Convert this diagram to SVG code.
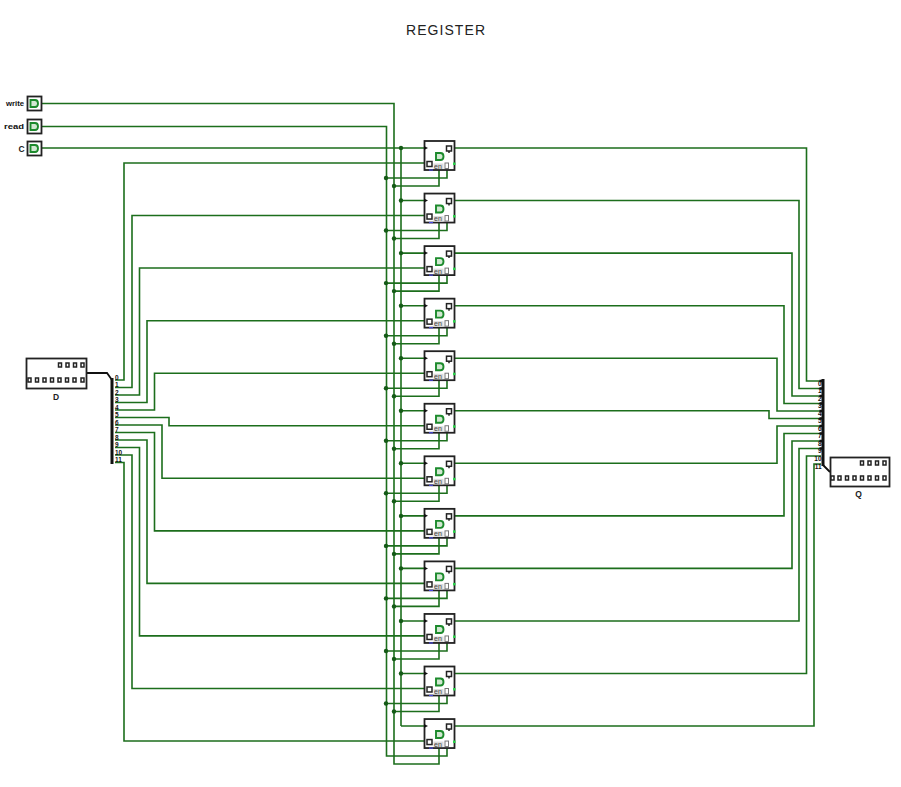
<svg xmlns="http://www.w3.org/2000/svg" width="901" height="787" viewBox="0 0 901 787">
<style>
.w{fill:none;stroke:#1c6e1c;stroke-width:1.6}
.b{fill:none;stroke:#111;stroke-width:3}
.bt{fill:none;stroke:#111;stroke-width:1.8}
.d{fill:#145a16}
.box{fill:#fff;stroke:#222;stroke-width:1.8}
.p{fill:#fff;stroke:#222;stroke-width:1.5}
.g{fill:#d2e8d2;stroke:#1c8a2c;stroke-width:1.9}
.t{font-family:"Liberation Sans",Arial,sans-serif;fill:#222}
.s{font-size:7px;fill:#444}
.n{font-size:6.5px;font-weight:bold;fill:#111}
.l{font-size:8.500px;font-weight:bold;fill:#222}
</style>
<rect width="901" height="787" fill="#fff"/>
<text class="t" x="445.500" y="35" font-size="14" text-anchor="middle" textLength="79">REGISTER</text>
<g id="connectors">
<path class="w" d="M42 103.500H394V764H439V748M42 126.500H386.500V756H447V748M42 148H424M401 148V726"/>
<path class="w" d="M401 200.500H424M401 253.100H424M401 305.700H424M401 358.200H424M401 410.800H424M401 463.300H424M401 515.900H424M401 568.400H424M401 621H424M401 673.500H424M401 726H424"/>
<path class="w" d="M386.500 178H447V169M394 186H439V169M386.500 230.500H447V221.500M394 238.500H439V221.500M386.500 283.100H447V274.100M394 291.100H439V274.100M386.500 335.700H447V326.700M394 343.700H439V326.700M386.500 388.200H447V379.200M394 396.200H439V379.200M386.500 440.800H447V431.800M394 448.800H439V431.800M386.500 493.300H447V484.300M394 501.300H439V484.300M386.500 545.900H447V536.900M394 553.900H439V536.900M386.500 598.400H447V589.400M394 606.400H439V589.400M386.500 651H447V642M394 659H439V642M386.500 703.500H447V694.500M394 711.500H439V694.500"/>
<path class="w" d="M115 380H124V163H424M115 387.500H132V215.500H424M115 395H139.500V268H424M115 402.500H147V320.700H424M115 410H154.500V373.200H424M115 417.500H169V425.800H424M115 425H162V478.300H424M115 432.500H154.500V530.900H424M115 440H147V583.400H424M115 447.500H139.500V635.900H424M115 455H132V688.500H424M115 462.500H124V741H424"/>
<path class="w" d="M455 148H806.500V381H821M455 200.500H799V388.500H821M455 253.100H792V396H821M455 305.700H784V403.500H821M455 358.200H777V411H821M455 410.800H769V418.500H821M455 463.300H777V426H821M455 515.900H784V433.500H821M455 568.400H792V441H821M455 621H799V448.500H821M455 673.500H806.500V456H821M455 726H814V464H821"/>
<path class="bt" d="M85 373H107L112 380M823 465L830 472"/>
<path class="b" d="M112 378V464M823 379V466"/>
<path d="M819.500 381H823M819.500 388.500H823M819.500 396H823M819.500 403.500H823M819.500 411H823M819.500 418.500H823M819.500 426H823M819.500 433.500H823M819.500 441H823M819.500 448.500H823" stroke="#111" stroke-width="2.500" fill="none"/>
<g class="d">
<circle cx="401" cy="148" r="2.200"/><circle cx="401" cy="200.500" r="2.200"/><circle cx="401" cy="253.100" r="2.200"/><circle cx="401" cy="305.700" r="2.200"/><circle cx="401" cy="358.200" r="2.200"/><circle cx="401" cy="410.800" r="2.200"/><circle cx="401" cy="463.300" r="2.200"/><circle cx="401" cy="515.900" r="2.200"/><circle cx="401" cy="568.400" r="2.200"/><circle cx="401" cy="621" r="2.200"/><circle cx="401" cy="673.500" r="2.200"/>
<circle cx="386" cy="178" r="2.200"/><circle cx="394" cy="186" r="2.200"/><circle cx="386" cy="230.500" r="2.200"/><circle cx="394" cy="238.500" r="2.200"/><circle cx="386" cy="283.100" r="2.200"/><circle cx="394" cy="291.100" r="2.200"/><circle cx="386" cy="335.700" r="2.200"/><circle cx="394" cy="343.700" r="2.200"/><circle cx="386" cy="388.200" r="2.200"/><circle cx="394" cy="396.200" r="2.200"/><circle cx="386" cy="440.800" r="2.200"/><circle cx="394" cy="448.800" r="2.200"/><circle cx="386" cy="493.300" r="2.200"/><circle cx="394" cy="501.300" r="2.200"/><circle cx="386" cy="545.900" r="2.200"/><circle cx="394" cy="553.900" r="2.200"/><circle cx="386" cy="598.400" r="2.200"/><circle cx="394" cy="606.400" r="2.200"/><circle cx="386" cy="651" r="2.200"/><circle cx="394" cy="659" r="2.200"/><circle cx="386" cy="703.500" r="2.200"/><circle cx="394" cy="711.500" r="2.200"/>
</g>
</g>
<defs>
<path id="dshape" class="g" d="M0 0H4.500Q7.500 0 7.500 3.500Q7.500 7 4.500 7H0Z"/>
</defs>
<g id="in-write"><rect class="box" x="27.500" y="96.500" width="14" height="14"/><use href="#dshape" x="30.500" y="100"/><text class="t n" x="6" y="106" textLength="18" lengthAdjust="spacingAndGlyphs">write</text></g>
<g id="in-read"><rect class="box" x="27.500" y="119.500" width="14" height="14"/><use href="#dshape" x="30.500" y="123"/><text class="t n" x="4" y="129" textLength="20" lengthAdjust="spacingAndGlyphs">read</text></g>
<g id="in-c"><rect class="box" x="27.500" y="141.500" width="14" height="14"/><use href="#dshape" x="30.500" y="145"/><text class="t l" x="18.500" y="152">C</text></g>
<g id="bus-d">
<rect class="box" x="26.500" y="358.500" width="60" height="30"/>
<g class="p"><rect x="58.500" y="363" width="3" height="4"/><rect x="66" y="363" width="3" height="4"/><rect x="73.500" y="363" width="3" height="4"/><rect x="81" y="363" width="3" height="4"/><rect x="28" y="378" width="3" height="4"/><rect x="35.500" y="378" width="3" height="4"/><rect x="43" y="378" width="3" height="4"/><rect x="50.500" y="378" width="3" height="4"/><rect x="58" y="378" width="3" height="4"/><rect x="65.500" y="378" width="3" height="4"/><rect x="73" y="378" width="3" height="4"/><rect x="81" y="378" width="3" height="4"/></g>
<text class="t l" x="56" y="400" text-anchor="middle">D</text>
<g class="t n"><text x="115" y="379.500">0</text><text x="115" y="387">1</text><text x="115" y="394.500">2</text><text x="115" y="402">3</text><text x="115" y="409.500">4</text><text x="115" y="417">5</text><text x="115" y="424.500">6</text><text x="115" y="432">7</text><text x="115" y="439.500">8</text><text x="115" y="447">9</text><text x="115" y="454.500">10</text><text x="115" y="462">11</text></g>
</g>
<g id="bus-q">
<rect class="box" x="830.500" y="457.500" width="59" height="29"/>
<g class="p"><rect x="860.500" y="461" width="3" height="4"/><rect x="868" y="461" width="3" height="4"/><rect x="875.500" y="461" width="3" height="4"/><rect x="883" y="461" width="3" height="4"/><rect x="831" y="476" width="3" height="4"/><rect x="838" y="476" width="3" height="4"/><rect x="845.500" y="476" width="3" height="4"/><rect x="853" y="476" width="3" height="4"/><rect x="860.500" y="476" width="3" height="4"/><rect x="868" y="476" width="3" height="4"/><rect x="875.500" y="476" width="3" height="4"/><rect x="883" y="476" width="3" height="4"/></g>
<text class="t l" x="858.500" y="497" text-anchor="middle">Q</text>
<g class="t n" text-anchor="end"><text x="821.500" y="385.500">0</text><text x="821.500" y="393">1</text><text x="821.500" y="400.500">2</text><text x="821.500" y="408">3</text><text x="821.500" y="415.500">4</text><text x="821.500" y="423">5</text><text x="821.500" y="430.500">6</text><text x="821.500" y="438">7</text><text x="821.500" y="445.500">8</text><text x="821.500" y="453">9</text><text x="821.500" y="460.500">10</text><text x="821.500" y="469">11</text></g>
</g>
<defs>
<g id="cell">
<rect class="box" x="424.500" y="141" width="30" height="29"/>
<path d="M424 146L428 148L424 150Z" fill="#111"/>
<rect class="p" x="446.500" y="146" width="5" height="5"/>
<path class="p" d="M449 151V153"/>
<use href="#dshape" x="436" y="153"/>
<rect class="p" x="427" y="161.500" width="5" height="5"/>
<rect x="433.500" y="163.500" width="10" height="5.500" fill="#dcdcdc"/>
<text class="t s" x="434" y="168.500">en</text>
<rect x="445" y="163" width="3.500" height="5.500" fill="#fff" stroke="#777"/>
<path d="M429 170H433" stroke="#4a4ae0" stroke-width="1.200"/>
<rect x="453" y="162.500" width="2.500" height="2.500" fill="#2ad24a"/>
</g>
</defs>
<g id="cell0"><use href="#cell"/></g>
<g id="cell1" transform="translate(0 52.550)"><use href="#cell"/></g>
<g id="cell2" transform="translate(0 105.100)"><use href="#cell"/></g>
<g id="cell3" transform="translate(0 157.650)"><use href="#cell"/></g>
<g id="cell4" transform="translate(0 210.200)"><use href="#cell"/></g>
<g id="cell5" transform="translate(0 262.750)"><use href="#cell"/></g>
<g id="cell6" transform="translate(0 315.300)"><use href="#cell"/></g>
<g id="cell7" transform="translate(0 367.850)"><use href="#cell"/></g>
<g id="cell8" transform="translate(0 420.400)"><use href="#cell"/></g>
<g id="cell9" transform="translate(0 472.950)"><use href="#cell"/></g>
<g id="cell10" transform="translate(0 525.500)"><use href="#cell"/></g>
<g id="cell11" transform="translate(0 578.050)"><use href="#cell"/></g>
</svg>
